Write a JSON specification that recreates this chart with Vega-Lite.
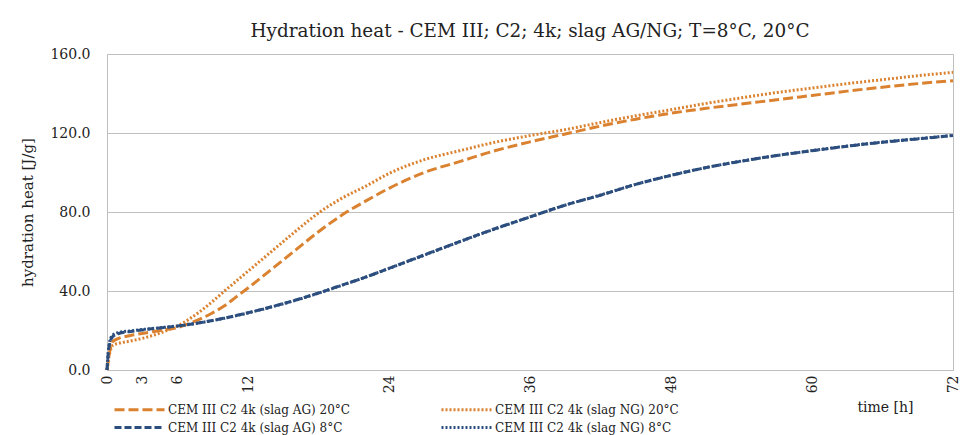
{
  "$schema": "https://vega.github.io/schema/vega-lite/v6.json",
  "width": 846,
  "height": 316,
  "autosize": {"type": "none"},
  "padding": {"left": 107, "top": 54, "right": 10, "bottom": 65},
  "background": "white",
  "title": {
    "text": "Hydration heat - CEM III; C2; 4k; slag AG/NG; T=8°C, 20°C",
    "font": "DejaVu Serif",
    "fontSize": 18.4,
    "fontWeight": "normal",
    "color": "#222222",
    "anchor": "middle",
    "frame": "group",
    "offset": 7
  },
  "config": {
    "view": {"stroke": "#BFBFBF", "strokeWidth": 1},
    "axis": {
      "labelFont": "DejaVu Serif",
      "titleFont": "DejaVu Serif",
      "labelColor": "#222222",
      "titleColor": "#222222",
      "titleFontWeight": "normal",
      "domainColor": "#BFBFBF",
      "gridColor": "#BFBFBF",
      "ticks": false
    }
  },
  "data": {
    "values": [
      {"series": "CEM III C2 4k (slag AG) 20°C", "t": 0, "q": 0},
      {"series": "CEM III C2 4k (slag AG) 20°C", "t": 0.25, "q": 10},
      {"series": "CEM III C2 4k (slag AG) 20°C", "t": 0.5, "q": 14.5},
      {"series": "CEM III C2 4k (slag AG) 20°C", "t": 1, "q": 16},
      {"series": "CEM III C2 4k (slag AG) 20°C", "t": 2, "q": 17.5},
      {"series": "CEM III C2 4k (slag AG) 20°C", "t": 3, "q": 18.5},
      {"series": "CEM III C2 4k (slag AG) 20°C", "t": 4, "q": 19.5},
      {"series": "CEM III C2 4k (slag AG) 20°C", "t": 5, "q": 20.5},
      {"series": "CEM III C2 4k (slag AG) 20°C", "t": 6, "q": 21.5},
      {"series": "CEM III C2 4k (slag AG) 20°C", "t": 7, "q": 23.5},
      {"series": "CEM III C2 4k (slag AG) 20°C", "t": 8, "q": 26},
      {"series": "CEM III C2 4k (slag AG) 20°C", "t": 9, "q": 29},
      {"series": "CEM III C2 4k (slag AG) 20°C", "t": 10, "q": 32.5},
      {"series": "CEM III C2 4k (slag AG) 20°C", "t": 11, "q": 37},
      {"series": "CEM III C2 4k (slag AG) 20°C", "t": 12, "q": 41.5},
      {"series": "CEM III C2 4k (slag AG) 20°C", "t": 14, "q": 51},
      {"series": "CEM III C2 4k (slag AG) 20°C", "t": 16, "q": 60.5},
      {"series": "CEM III C2 4k (slag AG) 20°C", "t": 18, "q": 70},
      {"series": "CEM III C2 4k (slag AG) 20°C", "t": 20, "q": 78.5},
      {"series": "CEM III C2 4k (slag AG) 20°C", "t": 22, "q": 85.5},
      {"series": "CEM III C2 4k (slag AG) 20°C", "t": 24, "q": 92},
      {"series": "CEM III C2 4k (slag AG) 20°C", "t": 27, "q": 100},
      {"series": "CEM III C2 4k (slag AG) 20°C", "t": 30, "q": 105.5},
      {"series": "CEM III C2 4k (slag AG) 20°C", "t": 33, "q": 111},
      {"series": "CEM III C2 4k (slag AG) 20°C", "t": 36, "q": 115.5},
      {"series": "CEM III C2 4k (slag AG) 20°C", "t": 39, "q": 119.5},
      {"series": "CEM III C2 4k (slag AG) 20°C", "t": 42, "q": 123.5},
      {"series": "CEM III C2 4k (slag AG) 20°C", "t": 45, "q": 127},
      {"series": "CEM III C2 4k (slag AG) 20°C", "t": 48, "q": 130},
      {"series": "CEM III C2 4k (slag AG) 20°C", "t": 51, "q": 132.5},
      {"series": "CEM III C2 4k (slag AG) 20°C", "t": 54, "q": 134.7},
      {"series": "CEM III C2 4k (slag AG) 20°C", "t": 57, "q": 136.8},
      {"series": "CEM III C2 4k (slag AG) 20°C", "t": 60, "q": 139},
      {"series": "CEM III C2 4k (slag AG) 20°C", "t": 63, "q": 141.2},
      {"series": "CEM III C2 4k (slag AG) 20°C", "t": 66, "q": 143.2},
      {"series": "CEM III C2 4k (slag AG) 20°C", "t": 69, "q": 145},
      {"series": "CEM III C2 4k (slag AG) 20°C", "t": 72, "q": 146.5},

      {"series": "CEM III C2 4k (slag NG) 20°C", "t": 0, "q": 0},
      {"series": "CEM III C2 4k (slag NG) 20°C", "t": 0.25, "q": 9},
      {"series": "CEM III C2 4k (slag NG) 20°C", "t": 0.5, "q": 12.5},
      {"series": "CEM III C2 4k (slag NG) 20°C", "t": 1, "q": 13.5},
      {"series": "CEM III C2 4k (slag NG) 20°C", "t": 2, "q": 14.7},
      {"series": "CEM III C2 4k (slag NG) 20°C", "t": 3, "q": 16},
      {"series": "CEM III C2 4k (slag NG) 20°C", "t": 4, "q": 17.7},
      {"series": "CEM III C2 4k (slag NG) 20°C", "t": 5, "q": 19.8},
      {"series": "CEM III C2 4k (slag NG) 20°C", "t": 6, "q": 22.3},
      {"series": "CEM III C2 4k (slag NG) 20°C", "t": 7, "q": 25.8},
      {"series": "CEM III C2 4k (slag NG) 20°C", "t": 8, "q": 30},
      {"series": "CEM III C2 4k (slag NG) 20°C", "t": 9, "q": 34.8},
      {"series": "CEM III C2 4k (slag NG) 20°C", "t": 10, "q": 40},
      {"series": "CEM III C2 4k (slag NG) 20°C", "t": 11, "q": 45},
      {"series": "CEM III C2 4k (slag NG) 20°C", "t": 12, "q": 50},
      {"series": "CEM III C2 4k (slag NG) 20°C", "t": 14, "q": 60},
      {"series": "CEM III C2 4k (slag NG) 20°C", "t": 16, "q": 70},
      {"series": "CEM III C2 4k (slag NG) 20°C", "t": 18, "q": 79.5},
      {"series": "CEM III C2 4k (slag NG) 20°C", "t": 20, "q": 87},
      {"series": "CEM III C2 4k (slag NG) 20°C", "t": 22, "q": 93},
      {"series": "CEM III C2 4k (slag NG) 20°C", "t": 24, "q": 99.5},
      {"series": "CEM III C2 4k (slag NG) 20°C", "t": 27, "q": 106.5},
      {"series": "CEM III C2 4k (slag NG) 20°C", "t": 30, "q": 111},
      {"series": "CEM III C2 4k (slag NG) 20°C", "t": 33, "q": 115.3},
      {"series": "CEM III C2 4k (slag NG) 20°C", "t": 36, "q": 118.7},
      {"series": "CEM III C2 4k (slag NG) 20°C", "t": 39, "q": 121.7},
      {"series": "CEM III C2 4k (slag NG) 20°C", "t": 42, "q": 125.3},
      {"series": "CEM III C2 4k (slag NG) 20°C", "t": 45, "q": 128.7},
      {"series": "CEM III C2 4k (slag NG) 20°C", "t": 48, "q": 131.8},
      {"series": "CEM III C2 4k (slag NG) 20°C", "t": 51, "q": 135},
      {"series": "CEM III C2 4k (slag NG) 20°C", "t": 54, "q": 137.8},
      {"series": "CEM III C2 4k (slag NG) 20°C", "t": 57, "q": 140.5},
      {"series": "CEM III C2 4k (slag NG) 20°C", "t": 60, "q": 142.8},
      {"series": "CEM III C2 4k (slag NG) 20°C", "t": 63, "q": 145},
      {"series": "CEM III C2 4k (slag NG) 20°C", "t": 66, "q": 147},
      {"series": "CEM III C2 4k (slag NG) 20°C", "t": 69, "q": 149},
      {"series": "CEM III C2 4k (slag NG) 20°C", "t": 72, "q": 150.7},

      {"series": "CEM III C2 4k (slag AG) 8°C", "t": 0, "q": 0},
      {"series": "CEM III C2 4k (slag AG) 8°C", "t": 0.1, "q": 8},
      {"series": "CEM III C2 4k (slag AG) 8°C", "t": 0.25, "q": 14},
      {"series": "CEM III C2 4k (slag AG) 8°C", "t": 0.5, "q": 17},
      {"series": "CEM III C2 4k (slag AG) 8°C", "t": 1, "q": 18.5},
      {"series": "CEM III C2 4k (slag AG) 8°C", "t": 2, "q": 19.5},
      {"series": "CEM III C2 4k (slag AG) 8°C", "t": 3, "q": 20.3},
      {"series": "CEM III C2 4k (slag AG) 8°C", "t": 4, "q": 21},
      {"series": "CEM III C2 4k (slag AG) 8°C", "t": 5, "q": 21.6},
      {"series": "CEM III C2 4k (slag AG) 8°C", "t": 6, "q": 22.3},
      {"series": "CEM III C2 4k (slag AG) 8°C", "t": 8, "q": 24},
      {"series": "CEM III C2 4k (slag AG) 8°C", "t": 10, "q": 26.3},
      {"series": "CEM III C2 4k (slag AG) 8°C", "t": 12, "q": 29},
      {"series": "CEM III C2 4k (slag AG) 8°C", "t": 14, "q": 32},
      {"series": "CEM III C2 4k (slag AG) 8°C", "t": 16, "q": 35.3},
      {"series": "CEM III C2 4k (slag AG) 8°C", "t": 18, "q": 39},
      {"series": "CEM III C2 4k (slag AG) 8°C", "t": 20, "q": 43},
      {"series": "CEM III C2 4k (slag AG) 8°C", "t": 22, "q": 47},
      {"series": "CEM III C2 4k (slag AG) 8°C", "t": 24, "q": 51.5},
      {"series": "CEM III C2 4k (slag AG) 8°C", "t": 26, "q": 56},
      {"series": "CEM III C2 4k (slag AG) 8°C", "t": 28, "q": 60.5},
      {"series": "CEM III C2 4k (slag AG) 8°C", "t": 30, "q": 65},
      {"series": "CEM III C2 4k (slag AG) 8°C", "t": 33, "q": 71.5},
      {"series": "CEM III C2 4k (slag AG) 8°C", "t": 36, "q": 77.5},
      {"series": "CEM III C2 4k (slag AG) 8°C", "t": 39, "q": 83.5},
      {"series": "CEM III C2 4k (slag AG) 8°C", "t": 42, "q": 88.5},
      {"series": "CEM III C2 4k (slag AG) 8°C", "t": 45, "q": 94},
      {"series": "CEM III C2 4k (slag AG) 8°C", "t": 48, "q": 98.5},
      {"series": "CEM III C2 4k (slag AG) 8°C", "t": 51, "q": 102.5},
      {"series": "CEM III C2 4k (slag AG) 8°C", "t": 54, "q": 105.7},
      {"series": "CEM III C2 4k (slag AG) 8°C", "t": 57, "q": 108.6},
      {"series": "CEM III C2 4k (slag AG) 8°C", "t": 60, "q": 111},
      {"series": "CEM III C2 4k (slag AG) 8°C", "t": 63, "q": 113.3},
      {"series": "CEM III C2 4k (slag AG) 8°C", "t": 66, "q": 115.3},
      {"series": "CEM III C2 4k (slag AG) 8°C", "t": 69, "q": 117},
      {"series": "CEM III C2 4k (slag AG) 8°C", "t": 72, "q": 118.7},

      {"series": "CEM III C2 4k (slag NG) 8°C", "t": 0, "q": 0},
      {"series": "CEM III C2 4k (slag NG) 8°C", "t": 0.1, "q": 9},
      {"series": "CEM III C2 4k (slag NG) 8°C", "t": 0.25, "q": 15},
      {"series": "CEM III C2 4k (slag NG) 8°C", "t": 0.5, "q": 17.8},
      {"series": "CEM III C2 4k (slag NG) 8°C", "t": 1, "q": 19},
      {"series": "CEM III C2 4k (slag NG) 8°C", "t": 2, "q": 19.8},
      {"series": "CEM III C2 4k (slag NG) 8°C", "t": 3, "q": 20.5},
      {"series": "CEM III C2 4k (slag NG) 8°C", "t": 4, "q": 21.1},
      {"series": "CEM III C2 4k (slag NG) 8°C", "t": 5, "q": 21.7},
      {"series": "CEM III C2 4k (slag NG) 8°C", "t": 6, "q": 22.3},
      {"series": "CEM III C2 4k (slag NG) 8°C", "t": 8, "q": 24},
      {"series": "CEM III C2 4k (slag NG) 8°C", "t": 10, "q": 26.2},
      {"series": "CEM III C2 4k (slag NG) 8°C", "t": 12, "q": 28.9},
      {"series": "CEM III C2 4k (slag NG) 8°C", "t": 14, "q": 31.9},
      {"series": "CEM III C2 4k (slag NG) 8°C", "t": 16, "q": 35.2},
      {"series": "CEM III C2 4k (slag NG) 8°C", "t": 18, "q": 38.9},
      {"series": "CEM III C2 4k (slag NG) 8°C", "t": 20, "q": 42.9},
      {"series": "CEM III C2 4k (slag NG) 8°C", "t": 22, "q": 47},
      {"series": "CEM III C2 4k (slag NG) 8°C", "t": 24, "q": 51.4},
      {"series": "CEM III C2 4k (slag NG) 8°C", "t": 26, "q": 55.9},
      {"series": "CEM III C2 4k (slag NG) 8°C", "t": 28, "q": 60.4},
      {"series": "CEM III C2 4k (slag NG) 8°C", "t": 30, "q": 64.9},
      {"series": "CEM III C2 4k (slag NG) 8°C", "t": 33, "q": 71.4},
      {"series": "CEM III C2 4k (slag NG) 8°C", "t": 36, "q": 77.5},
      {"series": "CEM III C2 4k (slag NG) 8°C", "t": 39, "q": 83.5},
      {"series": "CEM III C2 4k (slag NG) 8°C", "t": 42, "q": 88.6},
      {"series": "CEM III C2 4k (slag NG) 8°C", "t": 45, "q": 94},
      {"series": "CEM III C2 4k (slag NG) 8°C", "t": 48, "q": 98.6},
      {"series": "CEM III C2 4k (slag NG) 8°C", "t": 51, "q": 102.5},
      {"series": "CEM III C2 4k (slag NG) 8°C", "t": 54, "q": 105.8},
      {"series": "CEM III C2 4k (slag NG) 8°C", "t": 57, "q": 108.6},
      {"series": "CEM III C2 4k (slag NG) 8°C", "t": 60, "q": 111.1},
      {"series": "CEM III C2 4k (slag NG) 8°C", "t": 63, "q": 113.4},
      {"series": "CEM III C2 4k (slag NG) 8°C", "t": 66, "q": 115.4},
      {"series": "CEM III C2 4k (slag NG) 8°C", "t": 69, "q": 117.1},
      {"series": "CEM III C2 4k (slag NG) 8°C", "t": 72, "q": 118.8}
    ]
  },
  "mark": {"type": "line", "interpolate": "monotone", "strokeWidth": 3},
  "encoding": {
    "x": {
      "field": "t",
      "type": "quantitative",
      "scale": {"domain": [0, 72], "nice": false, "zero": false},
      "axis": {
        "values": [0, 3, 6, 12, 24, 36, 48, 60, 72],
        "grid": false,
        "labelAngle": -90,
        "labelFontSize": 14,
        "labelPadding": 5,
        "title": "time [h]",
        "titleFontSize": 14,
        "titleAnchor": "end",
        "titleAlign": "right",
        "titleX": 806,
        "titleY": 37,
        "titleBaseline": "middle"
      }
    },
    "y": {
      "field": "q",
      "type": "quantitative",
      "scale": {"domain": [0, 160], "nice": false},
      "axis": {
        "values": [0, 40, 80, 120, 160],
        "format": ".1f",
        "labelFontSize": 14,
        "labelPadding": 17,
        "title": "hydration heat [J/g]",
        "titleFontSize": 15,
        "titlePadding": 14
      }
    },
    "color": {
      "field": "series",
      "type": "nominal",
      "scale": {
        "domain": ["CEM III C2 4k (slag AG) 20°C", "CEM III C2 4k (slag NG) 20°C", "CEM III C2 4k (slag AG) 8°C", "CEM III C2 4k (slag NG) 8°C"],
        "range": ["#DA8230", "#DA8230", "#2C4E7E", "#2C4E7E"]
      },
      "legend": {
        "orient": "none",
        "legendX": 26,
        "legendY": 349,
        "direction": "horizontal",
        "columns": 2,
        "title": null,
        "symbolType": "M-5,0H5",
        "symbolSize": 100,
        "symbolStrokeWidth": 3,
        "labelFont": "DejaVu Serif",
        "labelFontSize": 12,
        "labelColor": "#222222",
        "labelOffset": 22,
        "labelLimit": 400,
        "columnPadding": 85,
        "rowPadding": 5
      }
    },
    "strokeDash": {
      "field": "series",
      "type": "nominal",
      "scale": {
        "domain": ["CEM III C2 4k (slag AG) 20°C", "CEM III C2 4k (slag NG) 20°C", "CEM III C2 4k (slag AG) 8°C", "CEM III C2 4k (slag NG) 8°C"],
        "range": [[10, 4], [2, 2], [7, 3], [2, 2]]
      },
      "legend": null
    }
  }
}
